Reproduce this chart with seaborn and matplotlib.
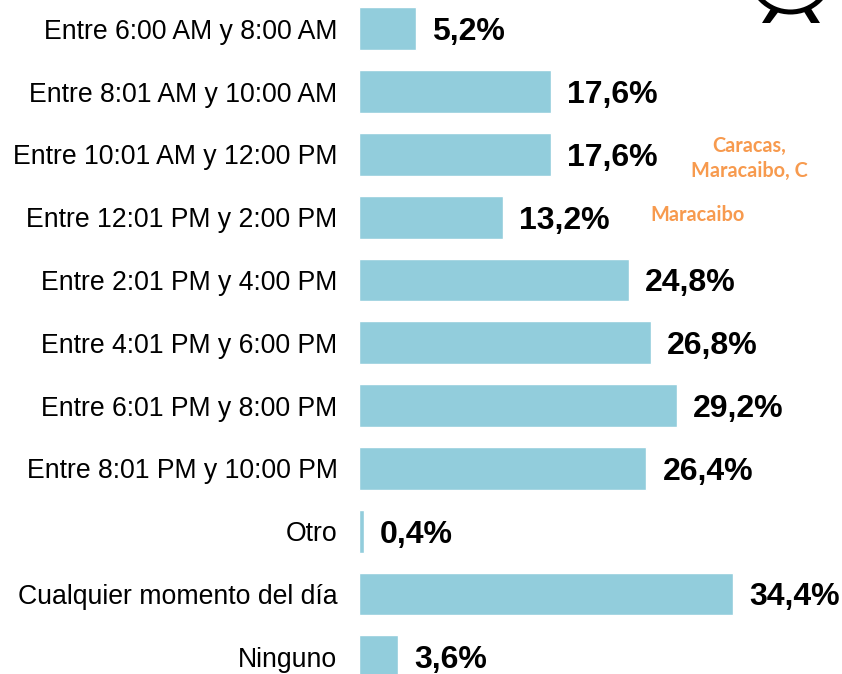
import matplotlib
matplotlib.use('Agg')
import matplotlib.pyplot as plt
import seaborn as sns
from matplotlib.patches import Arc, Polygon

horarios = ['Entre 6:00 AM y 8:00 AM', 'Entre 8:01 AM y 10:00 AM', 'Entre 10:01 AM y 12:00 PM',
            'Entre 12:01 PM y 2:00 PM', 'Entre 2:01 PM y 4:00 PM', 'Entre 4:01 PM y 6:00 PM',
            'Entre 6:01 PM y 8:00 PM', 'Entre 8:01 PM y 10:00 PM', 'Otro',
            'Cualquier momento del día', 'Ninguno']
porcentajes = [5.2, 17.6, 17.6, 13.2, 24.8, 26.8, 29.2, 26.4, 0.4, 34.4, 3.6]
notas = ['Caracas,\nMaracaibo, C', 'Maracaibo']
notas_y = [2, 3]

W, H = 842, 674
sns.set_theme(style='white', rc={'font.family': ['Liberation Sans', 'DejaVu Sans']})

fig = plt.figure(figsize=(W / 100, H / 100), dpi=100)
izq = 359.2
ax = fig.add_axes([izq / W, 0, (W - izq) / W, 1])

sns.barplot(x=porcentajes, y=horarios, orient='h', color='#92CDDC', saturation=1, width=0.68, ax=ax)

px = 10.88  # pixeles por punto porcentual
ax.set_xlim(0, (W - izq) / px)
ax.set_ylim((H - 28.8) / 62.8, -28.8 / 62.8)
sns.despine(ax=ax, left=True, bottom=True)
ax.set_xticks([])
ax.tick_params(axis='y', length=0, pad=15.6)
for t in ax.get_yticklabels():
    t.set_fontsize(19.2)
    t.set_color('#000000')

for i, v in enumerate(porcentajes):
    ax.annotate(f'{v:.1f}%'.replace('.', ','), (v, i), xytext=(11.7, -2.5), textcoords='offset points',
                va='center', ha='left', fontsize=23, fontweight='bold', color='black')

# notas en naranja
ax.text((749.5 - izq) / px, notas_y[0] + 0.06, notas[0], ha='center', va='center', fontsize=14.3,
        fontweight='bold', family='Lato', color='#F79A4E', linespacing=1.33, multialignment='center')
ax.text((697 - izq) / px, notas_y[1] - 0.04, notas[1], ha='center', va='center', fontsize=14.4,
        fontweight='bold', family='Lato', color='#F79A4E')

# icono cortado arriba a la derecha
ov = fig.add_axes([0, 0, 1, 1], facecolor='none')
ov.set_xlim(0, W)
ov.set_ylim(H, 0)
ov.axis('off')
ov.add_patch(Arc((790.5, -29), 82, 82, theta1=0, theta2=360, lw=3.6, color='black'))
ov.add_patch(Polygon([(772, 7), (779, 11), (770, 23), (762, 23)], color='black', lw=0))
ov.add_patch(Polygon([(803, 10), (810, 7), (820, 23), (811, 23)], color='black', lw=0))

fig.savefig('out.png', dpi=100)
